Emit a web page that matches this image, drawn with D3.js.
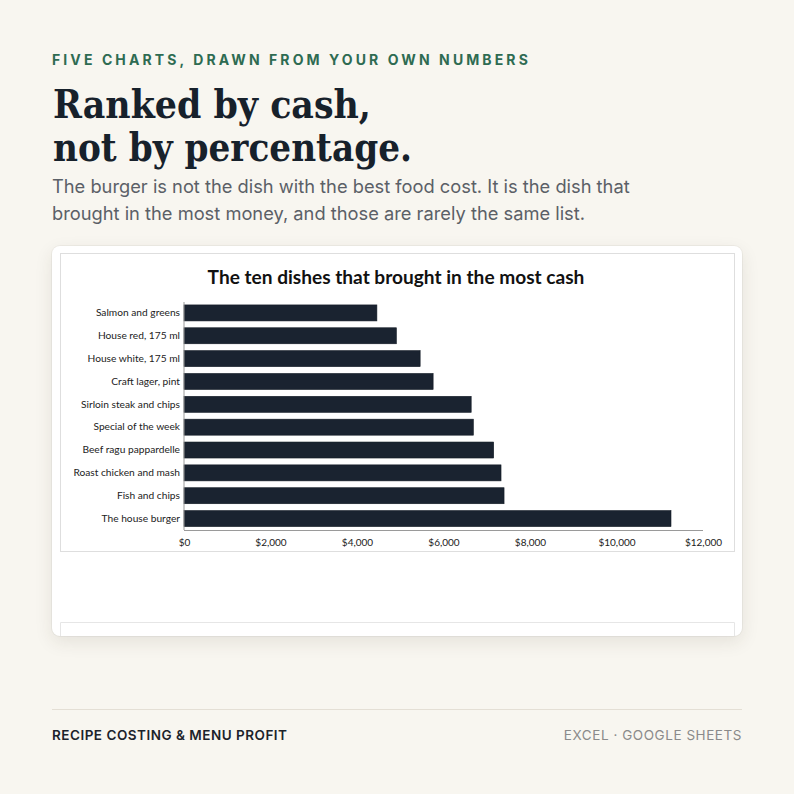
<!DOCTYPE html>
<html>
<head>
<meta charset="utf-8">
<script src="https://cdn.jsdelivr.net/npm/d3@7"></script>
<style>
  body { margin: 0; background: #f8f6f0; }
  #page { position: relative; width: 794px; height: 794px; overflow: hidden; }
  .card {
    position: absolute; left: 52px; top: 246px; width: 690px; height: 390px;
    background: #fff; border-radius: 8px;
    box-shadow: 0 0 0 1px rgba(0,0,0,0.04), 0 6px 18px rgba(60,50,30,0.10);
  }
  svg { position: absolute; left: 0; top: 0; }
</style>
</head>
<body>
<div id="page">
  <div class="card"></div>
</div>
<script>
// data, top to bottom as drawn
var dishes = ["Salmon and greens", "House red, 175 ml", "House white, 175 ml",
  "Craft lager, pint", "Sirloin steak and chips", "Special of the week",
  "Beef ragu pappardelle", "Roast chicken and mash", "Fish and chips", "The house burger"];
var cash = [4460, 4910, 5460, 5760, 6640, 6690, 7160, 7330, 7400, 11260];
var tickValues = [0, 2000, 4000, 6000, 8000, 10000, 12000];

var svg = d3.select("#page").append("svg")
    .attr("width", 794)
    .attr("height", 794);

// header
svg.append("text")
    .attr("x", 52).attr("y", 65)
    .attr("textLength", 478).attr("lengthAdjust", "spacing")
    .style("font", "700 14px Inter")
    .style("letter-spacing", "2.2px")
    .attr("fill", "#2e6b52")
    .text("FIVE CHARTS, DRAWN FROM YOUR OWN NUMBERS");

var titleLines = [["Ranked by cash,", 118, 318], ["not by percentage.", 161, 359]];
titleLines.forEach(function (t) {
    svg.append("text")
        .attr("x", 53).attr("y", t[1])
        .attr("textLength", t[2]).attr("lengthAdjust", "spacingAndGlyphs")
        .style("font", "700 39px 'DejaVu Serif'")
        .attr("fill", "#17212b")
        .text(t[0]);
});

var subLines = [["The burger is not the dish with the best food cost. It is the dish that", 193],
  ["brought in the most money, and those are rarely the same list.", 220]];
subLines.forEach(function (t) {
    svg.append("text")
        .attr("x", 52).attr("y", t[1])
        .style("font", "400 18.3px Inter")
        .attr("fill", "#5b6067")
        .text(t[0]);
});

// embedded chart frames
svg.append("rect")
    .attr("x", 60.5).attr("y", 253.5).attr("width", 674).attr("height", 298)
    .attr("fill", "#fff").attr("stroke", "#dedede");
svg.append("path")
    .attr("d", "M60.5,636 V622.5 H734.5 V636")
    .attr("fill", "none").attr("stroke", "#e6e6e6");

svg.append("text")
    .attr("x", 396).attr("y", 284)
    .attr("text-anchor", "middle")
    .style("font", "700 19.1px Lato")
    .attr("fill", "#111")
    .text("The ten dishes that brought in the most cash");

var x = d3.scaleLinear().domain([0, 12000]).range([184, 703]);
var y = d3.scaleBand().domain(dishes).range([301.5, 530]).paddingInner(0.3).paddingOuter(0.15);

var chart = svg.append("g");

chart.selectAll("rect.bar")
    .data(dishes)
    .enter()
    .append("rect")
    .attr("class", "bar")
    .attr("x", x(0))
    .attr("y", d => y(d))
    .attr("width", (d, i) => x(cash[i]) - x(0))
    .attr("height", y.bandwidth())
    .attr("fill", "#1a2330")
    .attr("stroke", "#121a24")
    .attr("stroke-width", 0.6);

// category axis
var leftAxis = d3.axisLeft(y).tickSize(0).tickPadding(4);
var gy = chart.append("g").attr("transform", "translate(184,0)").call(leftAxis);
gy.select(".domain").attr("stroke", "#9a9a9a").attr("d", "M0,302V530");
gy.selectAll("text").style("font", "400 10.2px Lato").attr("fill", "#222");

// value axis
var bottomAxis = d3.axisBottom(x).tickValues(tickValues).tickSize(0).tickPadding(9)
    .tickFormat(d => "$" + d3.format(",")(d));
var gx = chart.append("g").attr("transform", "translate(0,530)").call(bottomAxis);
gx.select(".domain").attr("stroke", "#9a9a9a").attr("d", "M184,0.5H703");
gx.selectAll("text").style("font", "400 10px Lato").attr("fill", "#222");

// footer
svg.append("line")
    .attr("x1", 52).attr("x2", 742).attr("y1", 709.5).attr("y2", 709.5)
    .attr("stroke", "#e4dfd5");
svg.append("text")
    .attr("x", 52).attr("y", 740)
    .style("font", "600 13.5px Inter")
    .style("letter-spacing", "0.5px")
    .attr("fill", "#1c232b")
    .text("RECIPE COSTING & MENU PROFIT");
svg.append("text")
    .attr("x", 742).attr("y", 740)
    .attr("text-anchor", "end")
    .style("font", "400 13.5px Inter")
    .style("letter-spacing", "0.55px")
    .attr("fill", "#8a8a8a")
    .text("EXCEL · GOOGLE SHEETS");
</script>
</body>
</html>
